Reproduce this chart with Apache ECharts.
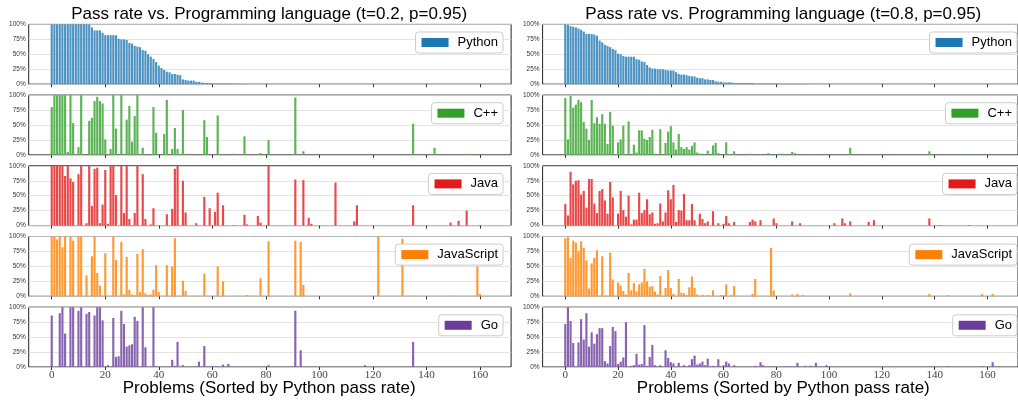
<!DOCTYPE html>
<html><head><meta charset="utf-8">
<script src="https://cdn.jsdelivr.net/npm/echarts@6/dist/echarts.min.js"></script>
<style>html,body{margin:0;padding:0;background:#fff}#c{width:1018px;height:400px}</style>
</head><body><div id="c"></div>
<script>
const languages = ['Python', 'C++', 'Java', 'JavaScript', 'Go'];
const colors = ['#1f78b4', '#33a02c', '#e31a1c', '#ff7f00', '#6a3d9a'];
const xTicks = [0, 20, 40, 60, 80, 100, 120, 140, 160];
const titles = ['Pass rate vs. Programming language (t=0.2, p=0.95)', 'Pass rate vs. Programming language (t=0.8, p=0.95)'];
const xLabel = 'Problems (Sorted by Python pass rate)';

// ---- t=0.2 (left column), pass rate in % per problem index 0..163 ----
const pyL = [
100,100,100,100,100,100,100,100,100,100,100,100,100,100,100,95,90,90,90,86,
82,82,82,82,82,76,75,75,74,69,68,64,63,62,57,56,50,46,42,37,
31,27,24,21,20,17,17,16,15,8,7,6,6,6,4,4,3,2,2,2,
1,1,1,1,1,1,1,1,1,0.5,0.5,0.5,0.5,0.5,0,0,0,0,0,0,
0,0,0,0,0,0,0,0,0,0,0,0,0,0,0,0,0,0,0,0,
0,0,0,0,0,0,0,0,0,0,0,0,0,0,0,0,0,0,0,0,
0,0,0,0,0,0,0,0,0,0,0,0,0,0,0,0,0,0,0,0,
0,0,0,0,0,0,0,0,0,0,0,0,0,0,0,0,0,0,0,0,
0,0,0,0];
const cppL = [
80,100,100,100,100,100,5,100,53,0,13,100,0,0,57,62,90,97,90,86,
26,0,10,100,44,0,100,2,59,82,22,65,100,0,12,0,0,0,80,37,
0,0,35,92,0,10,45,10,0,75,0,2,0,0,0,0,0,58,30,0,
0,0,66,0,0.5,0,0,0,2,0,0,0,31,0,0,0,0,0,3,0,
0,25,0,0,0,0,0,0,0,0,0,96,0,0,6,0,0,0,0,0,
0,0,0,0,0,0,0,0,0,0,0,0,0,0,0,0,0,0,0,0,
0,0,0,0,0,0,0,0,0,0,0,0,0,0,0,52,0,0,2,0,
0,0,0,12,0,0,0,0,0,0,0,0,0,0,1,1,1,0,0,0,
0,0,0,0];
const javaL = [
100,100,100,100,100,83,100,79,73,0,86,100,0,4,100,33,95,97,4,35,
93,3,100,100,51,0,100,21,100,11,1,21,100,0,86,11,0,2,29,0,
0,0,0,19,0,28,95,100,0,75,22,0,0,0,4,0,0,48,0,29,
0,23,55,0,34,0,0,0,1,0,0,0,18,2,0,0,0,16,5,0,
0,100,0,0,0,0,0,0,0,0,0,77,0,0,76,0,13,3,0,0,
0,0,0,0,0,0,72,0,0,0,0,0,0,7,34,0,0,0,0,0,
0,0,0,0,0,0,0,0,0,0,0,0,0,0,0,34,0,0,0,0,
0,0,0,0,0,0,0,0,0,5,0,0,8,0,0,25,0,0,0,0,
1,0,0,0];
const jsL = [
100,100,95,100,82,100,0,100,93,0,100,100,0,35,0,67,100,39,18,1,
72,0,0,100,61,0,91,3,66,11,3,2,71,7,79,5,2,3,11,52,
7,0,0,52,0,50,97,0,0,26,9,0,0,1,0,1,0,38,0,0,
0,0,50,0,25,0,0,0,0,0,0,0,0,2,0,0,0,0,30,0,
0,92,0,0,0,0,0,0,0,0,0,93,0,91,19,0,0,0,0,0,
0,0,0,0,0,0,0,0,0,0,0,0,0,0,0,0,0,0,0,0,
0,0,100,0,0,0,0,0,0,0,0,96,0,0,0,1,0,0,0,0,
0,0,0,0,0,0,0,0,0,1,0,0,0,0,0,0,0,0,0,50,
4,0,0,0];
const goL = [
86,0,0,90,100,56,0,100,100,0,94,100,0,89,92,1,86,100,100,78,
0,3,0,82,17,18,94,72,34,36,38,84,77,0,100,33,0,0,100,1,
0,0,0,0,0,12,2,42,0,3,0,0,0,0,0,9,0,35,0,1,
1,0,0,0,4,0,5,0,0,0,0,0,0,0,0,0,0,0,0,0,
0,3,0,0,0,0,0,0,0,0,0,94,0,28,0,0,0,0,0,0,
0,0,0,0,0,0,0,0,0,0,0,0,0,0,0,0,0,3,0,0,
0,0,0,0,0,0,0,0,0,0,0,0,0,0,0,42,0,0,0,0,
0,0,0,0,0,0,0,0,0,0,0,0,0,0,0,0,0,0,0,0,
0,0,0,0];

// ---- t=0.8 (right column) ----
const pyR = [
100,99,97,96,95,93,91,88,84,84,84,83,81,73,70,66,64,62,59,57,
51,50,47,46,46,46,46,42,41,38,37,32,28,26,26,25,25,25,24,23,
23,23,20,17,16,16,15,14,13,13,11,10,10,8,8,7,7,5,4,4,
3,3,3,3,2,2,2,2,2,2,2,2,1,1,1,1,1,1,1,1,
1,0.5,0.5,0.5,0.5,0.5,0.5,0.5,0.5,0.5,0.5,0.5,0.5,0,0,0,0,0,0,0,
0,0,0,0,0,0,0,0,0,0,0,0,0,0,0,0,0,0,0,0,
0,0,0,0,0,0,0,0,0,0,0,0,0,0,0,0,0,0,0,0,
0,0,0,0,0,0,0,0,0,0,0,0,0,0,0,0,0,0,0,0,
0,0,0,0];
const cppR = [
95,26,99,79,84,92,88,55,44,25,92,53,63,52,68,52,18,72,49,0,
21,26,49,0,56,0,17,4,41,41,27,25,30,42,2,0,43,0,20,39,
48,21,9,35,13,10,13,9,15,21,4,2,2,0,7,0,16,20,3,0,
0,21,1,0,6,0,0,0,0,0,2,0,0,0,1,0,0,3,0,0,
0,2,2,0,0,0,5,3,0,0,0,0,0,1,0,0,0,0,0,0,
0,0,1,0,0,0,0,0,12,0,0,0,0,0,0,0,0,0,0,0,
2,0,0,0,0,0,0,0,0,0,0,0,0,0,0,0,0,0,6,0,
0,0,0,0,0,0,0,0,0,0,0,0,0,1,0,0,0,0,0,0,
0,0,0,0];
const javaR = [
36,17,90,69,75,76,52,58,30,78,78,37,21,58,61,42,20,73,47,0,
20,58,26,15,50,2,10,10,55,21,26,44,19,22,3,4,37,7,22,59,
44,68,6,26,25,53,9,9,36,9,0,20,11,4,7,0,24,0,4,0,
3,16,4,0,6,0,0,0,0,0,6,10,7,0,9,0,0,0,0,12,
4,0,0,0,0,0,7,0,0,4,0,0,0,0,0,0,0,0,0,0,
0,0,4,0,0,12,4,0,7,0,0,0,0,0,0,6,0,9,0,0,
0,0,0,0,0,0,0,0,0,0,0,0,0,0,0,0,0,0,12,0,
0,0,1,0,0,0,0,0,0,0,0,0,0,1,0,0,0,0,0,0,
0,0,0,0];
const jsR = [
97,99,64,93,90,76,92,81,60,13,55,64,77,1,67,1,1,73,28,0,
23,18,9,3,39,10,22,8,20,23,46,25,16,17,8,3,34,0,14,44,
14,4,0,29,6,5,2,15,33,14,3,0,2,0,2,0,10,0,0,2,
2,20,0,2,17,0,0,0,0,0,0,4,29,0,0,0,0,0,81,10,
0,0,0,0,0,0,3,0,4,0,2,0,0,0,0,0,0,0,0,0,
0,0,0,0,0,0,0,0,5,0,0,0,0,0,0,0,0,0,0,0,
0,0,0,0,0,0,0,0,0,0,0,0,0,0,0,0,0,0,4,0,
0,0,0,0,0,2,0,0,0,0,0,0,0,0,0,0,0,0,4,0,
0,0,4,0];
const goR = [
72,100,77,40,0,41,80,46,90,34,58,39,55,65,65,10,6,35,67,60,
5,9,16,75,0,2,3,22,4,5,70,2,17,37,3,0,3,0,28,15,
8,6,0,7,0,3,0,3,13,19,4,6,9,3,14,0,2,0,13,0,
3,9,6,0,3,0,0,0,0,0,0,0,2,0,8,3,0,1,0,1,
0,0,0,1,0,1,0,0,7,0,0,2,0,2,0,7,0,0,0,3,
0,0,0,0,0,0,0,0,0,0,0,0,0,0,0,0,0,0,0,0,
0,0,0,0,0,0,0,0,0,0,0,0,0,0,0,0,0,0,0,1,
0,0,0,0,0,1,0,0,0,0,0,0,0,0,0,0,0,0,1,0,
0,0,8,0];

const columns = [[pyL, cppL, javaL, jsL, goL], [pyR, cppR, javaR, jsR, goR]];

// layout (pixels)
const colLeft = [28.7, 542.6];
const colWidth = 482.4;
const rowTop = [24.4, 95.1, 165.8, 236.5, 307.2];
const rowH = 59.8;
const legendRight = [515, 1];
const titleX = [269.2, 783.3];

// bars in the reference look slightly lighter than the legend patch (anti-aliased thin bars)
function lighten(hex, f) {
  const n = parseInt(hex.slice(1), 16);
  const ch = [(n >> 16) & 255, (n >> 8) & 255, n & 255].map(v => Math.round(v + (255 - v) * f));
  return 'rgb(' + ch.join(',') + ')';
}

const grid = [], xAxis = [], yAxis = [], series = [], legend = [], graphic = [];
columns.forEach((col, c) => {
  col.forEach((arr, r) => {
    const k = c * 5 + r;
    grid.push({left: colLeft[c], top: rowTop[r], width: colWidth, height: rowH,
      show: true, borderColor: '#222', borderWidth: 1, backgroundColor: 'transparent'});
    xAxis.push({type: 'value', gridIndex: k, min: -8.6, max: 171.6,
      axisLine: {show: false}, splitLine: {show: false},
      axisTick: {show: true, length: 3, customValues: xTicks, lineStyle: {color: '#333', width: 1}},
      axisLabel: {show: r === 4, customValues: xTicks, fontFamily: 'Liberation Serif', fontSize: 11, color: '#444', margin: 3}});
    yAxis.push({type: 'value', gridIndex: k, min: 0, max: 100, interval: 25,
      axisLine: {show: false}, axisTick: {show: false},
      splitLine: {show: true, lineStyle: {color: '#dcdcdc', width: 0.8}},
      axisLabel: {formatter: '{value}%', fontFamily: 'Liberation Sans', fontSize: 6.5, color: '#333', margin: 3}});
    series.push({type: 'bar', name: languages[r], xAxisIndex: k, yAxisIndex: k,
      data: arr.map((v, i) => [i, v]), barWidth: 2.14, silent: true,
      itemStyle: {color: lighten(colors[r], 0.2)}});
    legend.push({data: [languages[r]], right: legendRight[c], top: rowTop[r] + 7.6,
      icon: 'rect', itemWidth: 27, itemHeight: 9, padding: [4, 5, 4, 6],
      backgroundColor: '#fff', borderColor: '#cccccc', borderWidth: 1, borderRadius: 3,
      selectedMode: false, itemStyle: {color: colors[r]},
      textStyle: {fontSize: 13, fontFamily: 'Liberation Sans', color: '#000', padding: [0, 0, 0, 4]}});
  });
  graphic.push({type: 'text', x: titleX[c], y: 14.5, style: {text: titles[c], fontSize: 17,
    fontFamily: 'Liberation Sans', fill: '#000', align: 'center', verticalAlign: 'middle'}});
  graphic.push({type: 'text', x: titleX[c], y: 388, style: {text: xLabel, fontSize: 17,
    fontFamily: 'Liberation Sans', fill: '#000', align: 'center', verticalAlign: 'middle'}});
});

const chart = echarts.init(document.getElementById('c'), null, {renderer: 'canvas'});
chart.setOption({animation: false, backgroundColor: '#fff', grid, xAxis, yAxis, series, legend, graphic});
</script>
</body></html>
